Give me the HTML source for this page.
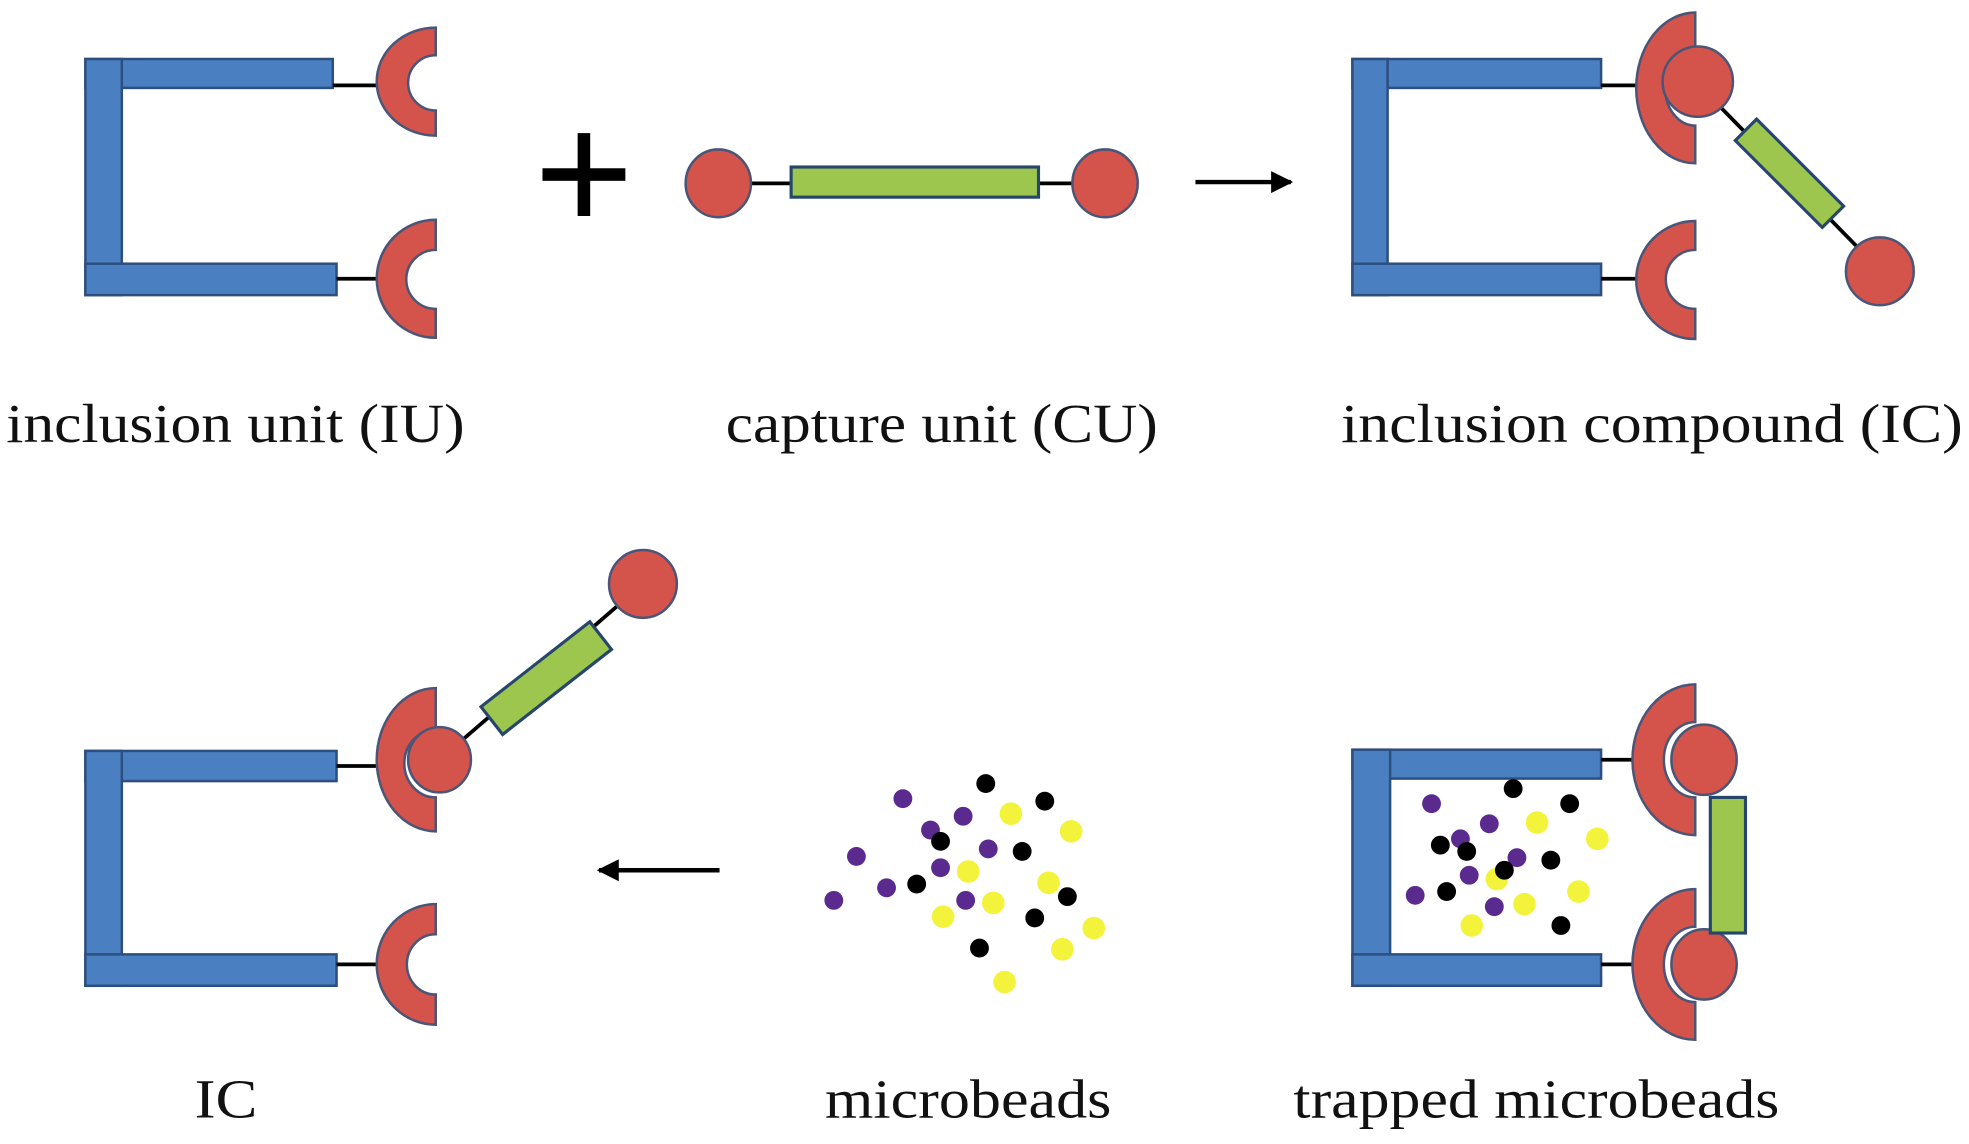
<!DOCTYPE html>
<html><head><meta charset="utf-8"><style>
html,body{margin:0;padding:0;background:#fff;}
svg{display:block;}
text{font-family:"Liberation Serif",serif;font-size:44px;fill:#111;}
</style></head><body>
<svg width="1969" height="1144" viewBox="0 0 1568 911" preserveAspectRatio="none" xmlns="http://www.w3.org/2000/svg">
<defs>
<marker id="ah" viewBox="0 0 10 10" refX="9" refY="5" markerWidth="5" markerHeight="5" orient="auto"><path d="M0,0 L10,5 L0,10 z" fill="#000"/></marker>
</defs>
<g stroke="#2c4f80" stroke-width="2" fill="#4a7fc1">
<rect x="68" y="47" width="197" height="23"/><rect x="68" y="47" width="29" height="188"/><rect x="68" y="210" width="200" height="25"/>
<rect x="1077" y="47" width="198" height="23"/><rect x="1077" y="47" width="28" height="188"/><rect x="1077" y="210" width="198" height="25"/>
<rect x="68" y="598" width="200" height="24"/><rect x="68" y="598" width="29" height="187"/><rect x="68" y="760" width="200" height="25"/>
<rect x="1077" y="597" width="198" height="23"/><rect x="1077" y="597" width="30" height="188"/><rect x="1077" y="760" width="198" height="25"/>
</g>
<g stroke="#000" stroke-width="3">
<line x1="265" y1="68" x2="302" y2="68"/><line x1="268" y1="222" x2="302" y2="222"/>
<line x1="598" y1="146" x2="632" y2="146"/><line x1="825" y1="146" x2="856" y2="146"/>
<line x1="1275" y1="68" x2="1305" y2="68"/><line x1="1275" y1="222" x2="1305" y2="222"/>
<line x1="1360" y1="75" x2="1497" y2="215"/>
<line x1="268" y1="610" x2="302" y2="610"/><line x1="268" y1="768" x2="302" y2="768"/>
<line x1="350" y1="605" x2="512" y2="465"/>
<line x1="1275" y1="605" x2="1305" y2="605"/><line x1="1275" y1="768" x2="1305" y2="768"/>
</g>
<g fill="#d4534b" stroke="#4a5577" stroke-width="2">
<path d="M347,22 A47,43 0 0 0 347,108 L347,88 A22,22 0 0 1 347,44 Z"/>
<path d="M347,175 A47,47 0 0 0 347,269 L347,246 A23,23 0 0 1 347,199 Z"/>
<path d="M1350,10 A47,60 0 0 0 1350,130 L1350,100 A24,30 0 0 1 1350,40 Z"/>
<path d="M1350,176 A47,47 0 0 0 1350,270 L1350,246 A23,23 0 0 1 1350,199 Z"/>
<path d="M347,548 A47,57 0 0 0 347,662 L347,635 A25,27 0 0 1 347,581 Z"/>
<path d="M347,720 A47,48 0 0 0 347,816 L347,792 A23,24 0 0 1 347,744 Z"/>
<path d="M1350,545 A50,60 0 0 0 1350,665 L1350,635 A25,30 0 0 1 1350,575 Z"/>
<path d="M1350,708 A50,60 0 0 0 1350,828 L1350,798 A25,30 0 0 1 1350,738 Z"/>
<ellipse cx="572" cy="146" rx="26" ry="27"/>
<ellipse cx="880" cy="146" rx="26" ry="27"/>
<ellipse cx="1352" cy="65" rx="28" ry="28"/>
<ellipse cx="1497" cy="216" rx="27" ry="27"/>
<ellipse cx="350" cy="605" rx="25" ry="26"/>
<ellipse cx="512" cy="465" rx="27" ry="27"/>
<ellipse cx="1357" cy="605" rx="26" ry="28"/>
<ellipse cx="1357" cy="768" rx="26" ry="28"/>
</g>
<g fill="#9dc64e" stroke="#26466b" stroke-width="2.5">
<rect x="630" y="133" width="197" height="24"/>
<rect x="-49" y="-12" width="98" height="24" transform="translate(1425,138) rotate(45)"/>
<rect x="-55" y="-14" width="110" height="28" transform="translate(435,540) rotate(-38)"/>
<rect x="1362" y="635" width="28" height="108"/>
</g>
<rect x="460" y="106" width="10" height="66" fill="#000"/>
<rect x="432" y="134" width="66" height="10" fill="#000"/>
<line x1="952" y1="145" x2="1028" y2="145" stroke="#000" stroke-width="3.5" marker-end="url(#ah)"/>
<line x1="573" y1="693" x2="477" y2="693" stroke="#000" stroke-width="3.5" marker-end="url(#ah)"/>
<g fill="#f2f21a" opacity="0.85">
<circle cx="805" cy="648" r="9"/><circle cx="853" cy="662" r="9"/><circle cx="771" cy="694" r="9"/><circle cx="835" cy="703" r="9"/><circle cx="791" cy="719" r="9"/><circle cx="751" cy="730" r="9"/><circle cx="871" cy="739" r="9"/><circle cx="846" cy="756" r="9"/><circle cx="800" cy="782" r="9"/>
<circle cx="1224" cy="655" r="9"/><circle cx="1272" cy="668" r="9"/><circle cx="1192" cy="700" r="9"/><circle cx="1257" cy="710" r="9"/><circle cx="1214" cy="720" r="9"/><circle cx="1172" cy="737" r="9"/>
</g>
<g fill="#5a2a8e">
<circle cx="719" cy="636" r="7.5"/><circle cx="767" cy="650" r="7.5"/><circle cx="741" cy="661" r="7.5"/><circle cx="682" cy="682" r="7.5"/><circle cx="787" cy="676" r="7.5"/><circle cx="749" cy="691" r="7.5"/><circle cx="706" cy="707" r="7.5"/><circle cx="664" cy="717" r="7.5"/><circle cx="769" cy="717" r="7.5"/>
<circle cx="1140" cy="640" r="7.5"/><circle cx="1163" cy="668" r="7.5"/><circle cx="1186" cy="656" r="7.5"/><circle cx="1170" cy="697" r="7.5"/><circle cx="1208" cy="683" r="7.5"/><circle cx="1127" cy="713" r="7.5"/><circle cx="1190" cy="722" r="7.5"/>
</g>
<g fill="#000">
<circle cx="785" cy="624" r="7.5"/><circle cx="832" cy="638" r="7.5"/><circle cx="749" cy="670" r="7.5"/><circle cx="814" cy="678" r="7.5"/><circle cx="730" cy="704" r="7.5"/><circle cx="850" cy="714" r="7.5"/><circle cx="824" cy="731" r="7.5"/><circle cx="780" cy="755" r="7.5"/>
<circle cx="1205" cy="628" r="7.5"/><circle cx="1250" cy="640" r="7.5"/><circle cx="1147" cy="673" r="7.5"/><circle cx="1168" cy="678" r="7.5"/><circle cx="1235" cy="685" r="7.5"/><circle cx="1198" cy="693" r="7.5"/><circle cx="1152" cy="710" r="7.5"/><circle cx="1243" cy="737" r="7.5"/>
</g>
<text x="5" y="352" textLength="365" lengthAdjust="spacingAndGlyphs">inclusion unit (IU)</text>
<text x="578" y="352" textLength="344" lengthAdjust="spacingAndGlyphs">capture unit (CU)</text>
<text x="1068" y="352" textLength="495" lengthAdjust="spacingAndGlyphs">inclusion compound (IC)</text>
<text x="155" y="890" textLength="50" lengthAdjust="spacingAndGlyphs">IC</text>
<text x="657" y="890" textLength="228" lengthAdjust="spacingAndGlyphs">microbeads</text>
<text x="1030" y="890" textLength="387" lengthAdjust="spacingAndGlyphs">trapped microbeads</text>
</svg>
</body></html>
